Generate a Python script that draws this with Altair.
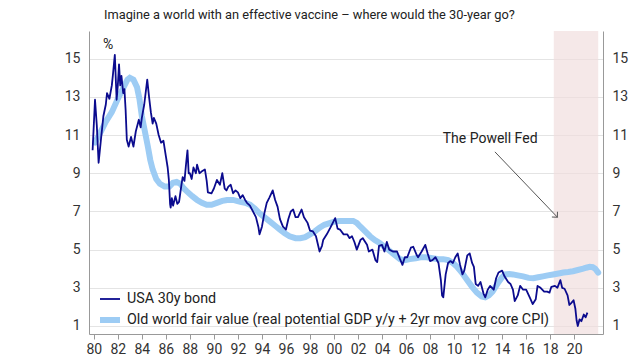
import altair as alt
import pandas as pd

TITLE = "Imagine a world with an effective vaccine \u2013 where would the 30-year go?"
S_BOND = "USA 30y bond"
S_FV = "Old world fair value (real potential GDP y/y + 2yr mov avg core CPI)"

bond_year = [1979.9, 1980.1, 1980.25, 1980.4, 1980.6, 1980.8, 1981.0, 1981.1, 1981.3, 1981.5,
             1981.6, 1981.75, 1981.9, 1982.0, 1982.1, 1982.2, 1982.3, 1982.45, 1982.55, 1982.65,
             1982.75, 1982.9, 1983.1, 1983.3, 1983.5, 1983.75, 1983.9, 1984.0, 1984.2, 1984.45,
             1984.6, 1984.75, 1984.9, 1985.0, 1985.2, 1985.4, 1985.6, 1985.8, 1986.0, 1986.15,
             1986.25, 1986.35, 1986.4, 1986.5, 1986.6, 1986.8, 1986.95, 1987.1, 1987.3, 1987.4,
             1987.55, 1987.7, 1987.8, 1987.9, 1988.0, 1988.15, 1988.3, 1988.5, 1988.6, 1988.8,
             1989.0, 1989.25, 1989.4, 1989.5, 1989.8, 1990.0, 1990.25, 1990.5, 1990.7, 1990.9,
             1991.05, 1991.2, 1991.4, 1991.6, 1991.8, 1992.0, 1992.2, 1992.4, 1992.6, 1992.75,
             1993.0, 1993.25, 1993.5, 1993.7, 1993.8, 1994.0, 1994.2, 1994.4, 1994.6, 1994.9,
             1995.1, 1995.3, 1995.5, 1995.75, 1996.0, 1996.2, 1996.4, 1996.6, 1996.8, 1997.0,
             1997.3, 1997.5, 1997.8, 1998.0, 1998.25, 1998.5, 1998.8, 1999.0, 1999.1, 1999.4,
             1999.7, 1999.9, 2000.1, 2000.3, 2000.5, 2000.8, 2001.1, 2001.3, 2001.5, 2001.7,
             2001.9, 2002.2, 2002.4, 2002.75, 2002.9, 2003.2, 2003.45, 2003.6, 2003.75, 2004.0,
             2004.2, 2004.4, 2004.6, 2004.9, 2005.25, 2005.5, 2005.7, 2005.9, 2006.1, 2006.4,
             2006.6, 2006.9, 2007.0, 2007.3, 2007.6, 2007.8, 2008.0, 2008.2, 2008.45, 2008.7,
             2008.9, 2009.0, 2009.1, 2009.3, 2009.5, 2009.7, 2009.9, 2010.1, 2010.3, 2010.5,
             2010.7, 2010.85, 2011.1, 2011.3, 2011.5, 2011.65, 2011.8, 2012.0, 2012.2, 2012.45,
             2012.6, 2012.8, 2013.0, 2013.3, 2013.5, 2013.7, 2014.0, 2014.2, 2014.5, 2014.7,
             2014.9, 2015.05, 2015.3, 2015.5, 2015.75, 2016.0, 2016.3, 2016.55, 2016.8, 2016.95,
             2017.2, 2017.5, 2017.75, 2017.95, 2018.1, 2018.4, 2018.6, 2018.85, 2019.0, 2019.2,
             2019.45, 2019.6, 2019.75, 2019.95, 2020.1, 2020.2, 2020.3, 2020.45, 2020.6, 2020.8,
             2020.95, 2021.1]
bond_val = [10.2, 12.85, 11.5, 9.55, 10.8, 12.0, 12.6, 13.2, 12.9, 13.6,
            14.2, 15.2, 12.85, 13.6, 14.7, 13.6, 14.1, 13.2, 13.4, 12.3,
            10.75, 10.4, 10.9, 10.4, 11.2, 11.8, 11.4, 11.9, 12.6, 13.9,
            13.0, 12.2, 11.6, 11.9, 11.6, 11.0, 10.6, 10.7, 9.9, 9.3,
            8.65, 7.4, 7.2, 7.7, 7.3, 7.8, 7.4, 7.5, 8.4, 8.8,
            8.6, 9.6, 10.2, 9.0, 9.0, 8.7, 9.3, 9.0, 9.45, 9.0,
            9.1, 9.2, 8.6, 8.0, 7.95, 8.2, 8.65, 8.4, 9.0, 8.2,
            8.1, 8.3, 8.4, 7.95, 8.1, 8.0, 7.7, 7.85, 7.6, 7.45,
            7.3, 7.0, 6.7, 6.2, 5.8, 6.2, 6.9, 7.45, 7.7, 8.1,
            7.6, 7.25, 6.6, 6.2, 6.05, 6.6, 7.0, 7.1, 6.7, 6.7,
            7.1, 6.7, 6.4, 6.0, 5.95, 5.7, 4.9, 5.2, 5.5, 5.8,
            6.15, 6.4, 6.65, 6.1, 6.05, 5.8, 5.8, 5.6, 5.7, 5.4,
            5.0, 5.5, 5.6, 5.25, 4.9, 5.0, 4.45, 4.35, 5.2, 5.25,
            4.9, 5.4, 5.0, 4.9, 4.9, 4.5, 4.2, 4.6, 4.6, 5.1,
            5.15, 4.7, 4.6, 4.9, 5.25, 4.8, 4.4, 4.45, 4.6, 4.3,
            3.4, 2.6, 2.5, 3.7, 4.3, 4.4, 4.3, 4.6, 4.8, 4.2,
            3.7, 3.9, 4.7, 4.8, 4.3, 4.1, 3.2, 3.1, 3.3, 2.7,
            2.5, 2.9, 3.1, 2.9, 3.5, 3.8, 3.9, 3.6, 3.3, 3.2,
            2.9, 2.3, 2.6, 3.1, 2.9, 2.9, 2.5, 2.15, 2.4, 3.1,
            3.0, 2.8, 2.8, 2.75, 3.05, 3.1, 3.0, 3.4, 3.0, 2.95,
            2.6, 2.1, 2.2, 2.35, 1.9, 1.3, 1.0, 1.35, 1.25, 1.6,
            1.45, 1.7]

fv_year = [1980.1, 1980.6, 1981.0, 1981.5, 1982.0, 1982.4, 1982.8, 1983.0, 1983.3, 1983.6,
           1983.8, 1984.0, 1984.25, 1984.5, 1984.7, 1984.9, 1985.2, 1985.5, 1985.9, 1986.3,
           1986.6, 1986.9, 1987.2, 1987.5, 1987.75, 1988.2, 1988.6, 1989.0, 1989.4, 1989.8,
           1990.25, 1990.7, 1991.1, 1991.6, 1992.2, 1992.6, 1993.0, 1993.4, 1993.8, 1994.2,
           1994.7, 1995.1, 1995.5, 1995.9, 1996.3, 1996.8, 1997.2, 1997.6, 1998.0, 1998.4,
           1998.8, 1999.2, 1999.7, 2000.1, 2000.5, 2001.0, 2001.6, 2001.9, 2002.2, 2002.6,
           2003.0, 2003.4, 2003.8, 2004.2, 2004.7, 2005.1, 2005.5, 2005.9, 2006.3, 2006.8,
           2007.2, 2007.7, 2008.2, 2008.7, 2009.1, 2009.5, 2009.9, 2010.25, 2010.7, 2011.1,
           2011.5, 2011.9, 2012.3, 2012.6, 2012.9, 2013.2, 2013.5, 2013.7, 2014.0, 2014.25,
           2014.6, 2014.9, 2015.3, 2015.75, 2016.2, 2016.6, 2017.0, 2017.4, 2017.8, 2018.25,
           2018.7, 2019.1, 2019.5, 2019.9, 2020.3, 2020.75, 2021.0, 2021.3, 2021.55, 2021.75,
           2022.0]
fv_val = [10.6, 11.2, 11.7, 12.2, 12.9, 13.4, 13.9, 14.0, 13.9, 13.5,
          12.9, 12.0, 11.2, 10.4, 9.7, 9.2, 8.7, 8.45, 8.3, 8.3,
          8.5, 8.55, 8.45, 8.2, 8.05, 7.8, 7.6, 7.45, 7.35, 7.35,
          7.45, 7.55, 7.6, 7.6, 7.5, 7.45, 7.35, 7.15, 6.9, 6.7,
          6.45, 6.25, 6.05, 5.85, 5.7, 5.6, 5.6, 5.65, 5.8, 5.95,
          6.15, 6.3, 6.4, 6.48, 6.5, 6.5, 6.5, 6.4, 6.2, 5.95,
          5.7, 5.5, 5.35, 5.15, 4.9, 4.7, 4.5, 4.45, 4.5, 4.55,
          4.6, 4.6, 4.55, 4.5, 4.5, 4.45, 4.3, 4.1, 3.75, 3.4,
          3.05, 2.75, 2.55, 2.5, 2.6, 2.8, 3.1, 3.3, 3.55, 3.7,
          3.72, 3.7, 3.65, 3.6, 3.52, 3.5, 3.55, 3.6, 3.65, 3.7,
          3.75, 3.8, 3.83, 3.87, 3.93, 4.0, 4.05, 4.1, 4.08, 4.0,
          3.8]

x_ticks = list(range(1980, 2021, 2))
y_ticks = [1, 3, 5, 7, 9, 11, 13, 15]

shade_start = [2018.3]
shade_end = [2022.0]

pct_label = ["%"]
pct_pos = [1981.2, 15.73]
powell_label = ["The Powell Fed"]
powell_pos = [2013.0, 10.8]
arrow_from = [2013.4, 10.12]
arrow_to = [2018.6, 6.7]

FONT = "Roboto"

df = pd.concat([
    pd.DataFrame({"year": bond_year, "value": bond_val, "series": S_BOND}),
    pd.DataFrame({"year": fv_year, "value": fv_val, "series": S_FV}),
])

xscale = alt.Scale(domain=[1979.6, 2022.4], nice=False, zero=False)
yscale = alt.Scale(domain=[0.58, 16.45], nice=False, zero=False)

xaxis = alt.Axis(values=x_ticks, labelExpr="substring(toString(datum.value), 2)",
                 grid=False, ticks=True, tickSize=5, tickColor="#999", domainColor="#999",
                 labelFontSize=14, labelColor="#333", labelFont=FONT, labelPadding=3, title=None)
yaxis_left = alt.Axis(values=y_ticks, grid=True, gridColor="#e4e4e4", ticks=False,
                      domainColor="#999", labelFontSize=14, labelColor="#333", labelFont=FONT,
                      labelPadding=9, title=None, orient="left")
yaxis_right = alt.Axis(values=y_ticks, grid=False, ticks=False,
                       domainColor="#999", labelFontSize=14, labelColor="#333", labelFont=FONT,
                       labelPadding=9, title=None, orient="right")

legend = alt.Legend(orient="none", legendX=8, legendY=257, title=None, symbolType="stroke",
                    symbolSize=400, labelFontSize=14.3, labelFont=FONT, labelColor="#222",
                    rowPadding=-2, padding=0, labelOffset=4, labelLimit=0)
color = alt.Color("series:N", scale=alt.Scale(domain=[S_BOND, S_FV], range=["#0b0b8e", "#9dccf4"]),
                  legend=legend)
sw = alt.StrokeWidth("series:N", scale=alt.Scale(domain=[S_BOND, S_FV], range=[1.8, 6]),
                     legend=legend)

shade = alt.Chart(pd.DataFrame({"s": shade_start, "e": shade_end})).mark_rect(
    color="#efdcdc", opacity=0.65).encode(
    x=alt.X("s:Q", scale=xscale, axis=xaxis), x2="e:Q",
    y=alt.value(0), y2=alt.value(303))

fv_line = alt.Chart(df[df.series == S_FV]).mark_line(strokeCap="round").encode(
    x=alt.X("year:Q", scale=xscale, axis=xaxis),
    y=alt.Y("value:Q", scale=yscale, axis=yaxis_left),
    color=color, strokeWidth=sw)

bond_line = alt.Chart(df[df.series == S_BOND]).mark_line(strokeJoin="round").encode(
    x=alt.X("year:Q", scale=xscale, axis=xaxis),
    y=alt.Y("value:Q", scale=yscale, axis=yaxis_right),
    color=color, strokeWidth=sw)

texts = alt.Chart(pd.DataFrame({
    "x": [pct_pos[0], powell_pos[0]], "y": [pct_pos[1], powell_pos[1]],
    "t": pct_label + powell_label})).mark_text(
    font=FONT, fontSize=14, color="#222").encode(
    x=alt.X("x:Q", scale=xscale, axis=xaxis),
    y=alt.Y("y:Q", scale=yscale, axis=None), text="t:N")

arrow = alt.Chart(pd.DataFrame({"x": [arrow_from[0]], "y": [arrow_from[1]],
                                "x2": [arrow_to[0]], "y2": [arrow_to[1]]})).mark_rule(
    color="#555", strokeWidth=1).encode(
    x=alt.X("x:Q", scale=xscale, axis=xaxis), x2="x2:Q",
    y=alt.Y("y:Q", scale=yscale, axis=None), y2="y2:Q")

head = alt.Chart(pd.DataFrame({"x": [arrow_to[0]], "y": [arrow_to[1]]})).mark_point(
    shape="M-1,1L0,0L1,1", filled=False, stroke="#555", strokeWidth=1, size=60,
    angle=136, opacity=1).encode(
    x=alt.X("x:Q", scale=xscale, axis=xaxis),
    y=alt.Y("y:Q", scale=yscale, axis=None))

chart = alt.layer(shade, fv_line, bond_line, arrow, head, texts).resolve_axis(
    y="independent").properties(
    width=514, height=303,
    title=alt.Title(TITLE, anchor="start", dx=15, offset=9, frame="group",
                    font=FONT, fontSize=12.8, fontWeight="normal", color="#222"),
    autosize=alt.AutoSizeParams(type="none"),
    padding={"left": 81, "top": 23, "right": 29, "bottom": 26},
).configure_view(stroke=None)

chart.save("out.html", embed_options={"renderer": "svg", "actions": False})
